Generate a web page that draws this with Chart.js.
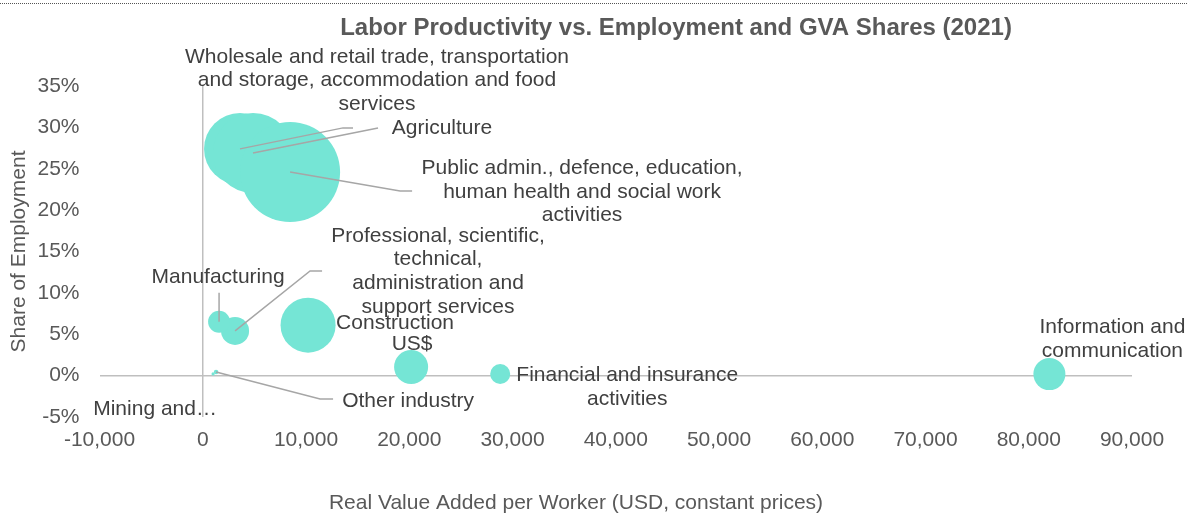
<!DOCTYPE html>
<html>
<head>
<meta charset="utf-8">
<script src="https://cdn.jsdelivr.net/npm/chart.js@4/dist/chart.umd.min.js"></script>
<style>
  body { margin: 0; background: #fff; }
  #wrap { width: 1187px; height: 514px; position: relative; }
</style>
</head>
<body>
<div id="wrap"><canvas id="canvas1"></canvas></div>
<script>
/* Data */
const sectors = ['Wholesale and retail trade, transportation and storage, accommodation and food services',
  'Agriculture', 'Public admin., defence, education, human health and social work activities',
  'Professional, scientific, technical, administration and support services', 'Manufacturing',
  'Construction', 'US$', 'Financial and insurance activities', 'Information and communication',
  'Other industry', 'Mining and quarrying']
const valueAdded = [3610, 4870, 8460, 3130, 1580, 10200, 20180, 28810, 82000, 1290, 1000]
const employmentShare = [27.4, 26.9, 24.6, 5.4, 6.5, 6.1, 1.04, 0.19, 0.19, 0.43, 0.2]
const gvaShare = [10.1, 12.5, 19.5, 1.53, 0.94, 5.9, 2.26, 0.78, 2.0, 0.04, 0.02]
const xTickRange = [-10000, 90000, 10000]
const yTickRange = [-5, 35, 5]

/* Label text as shown on the chart */
const labelLines = [
  ['Wholesale and retail trade, transportation', 'and storage, accommodation and food', 'services'],
  ['Agriculture'],
  ['Public admin., defence, education,', 'human health and social work', 'activities'],
  ['Professional, scientific,', 'technical,', 'administration and', 'support services'],
  ['Manufacturing'],
  ['Construction'],
  ['US$'],
  ['Financial and insurance', 'activities'],
  ['Information and', 'communication'],
  ['Other industry'],
  ['Mining and\u2026']
]
/* label placement (pixels from bubble centre) and leader line bends */
const labelOffsets = [[137, -92], [189, -25], [292, -4], [203, -95], [-1, -45], [87, -2], [1, -23], [127, 1], [63, -47], [192, 29], [-58, 35]]
const leaders = [[[103, -21], [113, -21]], [[125, -25]], [[110, 19], [122, 19]], [[75, -60], [87, -60]], [[0, -29]], [], [], [], [], [[104, 27], [117, 27]], []]

const FONT = '"Liberation Sans", Arial, sans-serif'
const bubbleScale = 50 / Math.sqrt(Math.max(...gvaShare))

const labelPlugin = {
  id: 'labels',
  afterDatasetsDraw(chart) {
    const c = chart.ctx
    const pts = chart.getDatasetMeta(0).data
    c.save()
    // leader lines
    c.strokeStyle = '#a6a6a6'
    c.lineWidth = 1.5
    pts.forEach((p, i) => {
      if (!leaders[i].length) return
      c.beginPath()
      c.moveTo(p.x, p.y)
      leaders[i].forEach(q => c.lineTo(p.x + q[0], p.y + q[1]))
      c.stroke()
    })
    // labels
    c.fillStyle = '#404040'
    c.font = '21px ' + FONT
    c.textAlign = 'center'
    c.textBaseline = 'middle'
    pts.forEach((p, i) => {
      labelLines[i].forEach((t, k) => {
        c.fillText(t, p.x + labelOffsets[i][0], p.y + labelOffsets[i][1] + k * 23.7)
      })
    })
    c.restore()
  },
  afterDraw(chart) {
    const c = chart.ctx
    c.save()
    c.fillStyle = '#595959'
    c.font = 'bold 24px ' + FONT
    c.textAlign = 'center'
    c.textBaseline = 'middle'
    c.fillText('Labor Productivity vs. Employment and GVA Shares (2021)', 676, 28)
    // x axis title sits left of the plot centre in the original
    c.font = '21px ' + FONT
    c.fillText('Real Value Added per Worker (USD, constant prices)', 576, 503)
    c.strokeStyle = '#555'
    c.setLineDash([1, 1])
    c.lineWidth = 1
    c.beginPath()
    c.moveTo(0, 3.5)
    c.lineTo(chart.width, 3.5)
    c.stroke()
    c.restore()
  }
}

const zeroLine = ctx => ctx.tick && ctx.tick.value === 0 ? '#bfbfbf' : 'rgba(0,0,0,0)'

let ctx1 = document.getElementById('canvas1').getContext('2d')
new Chart(ctx1, {
  type: 'bubble',
  data: {
    datasets: [{
      label: 'Sectors',
      data: sectors.map((s, i) => ({ x: valueAdded[i], y: employmentShare[i], r: bubbleScale * Math.sqrt(gvaShare[i]) })),
      backgroundColor: 'rgb(117,229,213)',
      borderWidth: 0,
      hoverBorderWidth: 0
    }]
  },
  options: {
    responsive: true,
    maintainAspectRatio: false,
    animation: false,
    layout: { padding: { top: 86, right: 55, left: 0, bottom: 0 } },
    plugins: { legend: { display: false }, tooltip: { enabled: false } },
    scales: {
      x: {
        type: 'linear',
        min: xTickRange[0], max: xTickRange[1],
        afterFit: s => { s.height = 97 },
        border: { display: false },
        grid: { color: zeroLine, lineWidth: 1.5, drawTicks: false },
        ticks: {
          stepSize: xTickRange[2], padding: 11, color: '#595959',
          font: { family: FONT, size: 21 }, maxRotation: 0,
          callback: v => v.toLocaleString('en-US')
        }
      },
      y: {
        type: 'linear',
        min: yTickRange[0], max: yTickRange[1],
        afterFit: s => { s.width = 99.5 },
        border: { display: false },
        grid: { color: zeroLine, lineWidth: 1.5, drawTicks: false },
        ticks: {
          stepSize: yTickRange[2], padding: 20, color: '#595959',
          font: { family: FONT, size: 21 },
          callback: v => v + '%'
        },
        title: {
          display: true, text: 'Share of Employment',
          color: '#595959', font: { family: FONT, size: 21 }, padding: { top: 7, bottom: 0 }
        }
      }
    }
  },
  plugins: [labelPlugin]
})
</script>
</body>
</html>
